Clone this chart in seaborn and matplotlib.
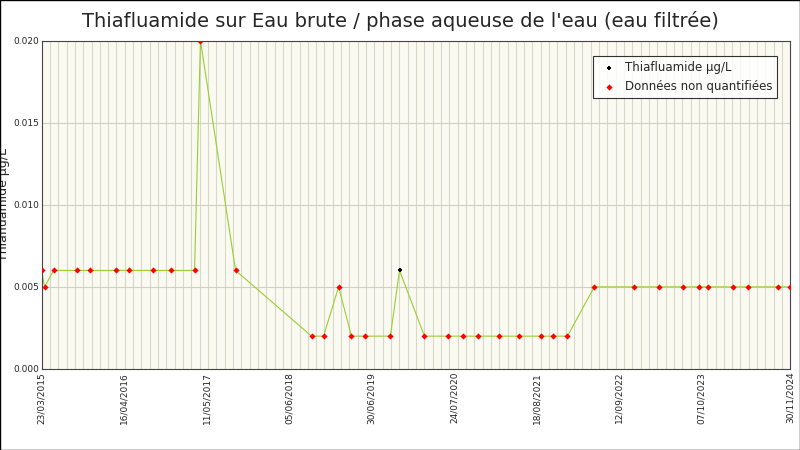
import numpy as np
import pandas as pd
import seaborn as sns
import matplotlib.pyplot as plt
import matplotlib.dates as mdates

dates = ["2015-03-23", "2015-04-06", "2015-05-19", "2015-09-04", "2015-11-05", "2016-03-11",
         "2016-05-07", "2016-08-29", "2016-11-22", "2017-03-15", "2017-04-12", "2017-09-25",
         "2018-09-19", "2018-11-15", "2019-01-25", "2019-03-27", "2019-05-28", "2019-09-27",
         "2019-11-09", "2020-03-06", "2020-06-23", "2020-09-02", "2020-11-16", "2021-02-23",
         "2021-05-29", "2021-09-10", "2021-11-06", "2022-01-11", "2022-05-18", "2022-11-23",
         "2023-03-22", "2023-07-13", "2023-09-27", "2023-11-08", "2024-03-05", "2024-05-15",
         "2024-10-04", "2024-11-30"]
values = [0.006, 0.005, 0.006, 0.006, 0.006, 0.006, 0.006, 0.006, 0.006, 0.006, 0.020, 0.006,
          0.002, 0.002, 0.005, 0.002, 0.002, 0.002, 0.006, 0.002, 0.002, 0.002, 0.002, 0.002,
          0.002, 0.002, 0.002, 0.002, 0.005, 0.005, 0.005, 0.005, 0.005, 0.005, 0.005, 0.005,
          0.005, 0.005]
quantified = [False] * len(values)
quantified[18] = True
tick_dates = ["2015-03-23", "2016-04-16", "2017-05-11", "2018-06-05", "2019-06-30",
              "2020-07-24", "2021-08-18", "2022-09-12", "2023-10-07", "2024-11-30"]

df = pd.DataFrame({"date": pd.to_datetime(dates), "val": values, "q": quantified})

sns.set_style("white")
fig = plt.figure(figsize=(8, 4.5), dpi=100)
ax = fig.add_axes([0.052, 0.18, 0.936, 0.73])
ax.set_facecolor("#fafaf2")

ticks = pd.to_datetime(tick_dates)
minor = pd.date_range(ticks[0], ticks[-1], periods=(len(ticks) - 1) * 10 + 1)
ax.set_xticks(minor, minor=True)
ax.grid(True, which="minor", axis="x", color="#d8d8c8", lw=0.8)
ax.grid(True, which="major", axis="y", color="#d0d0c0", lw=0.8)

sns.lineplot(data=df, x="date", y="val", ax=ax, color="#9acd32", lw=0.8)
sns.scatterplot(data=df[df.q], x="date", y="val", ax=ax, color="black", marker="P", s=12,
                linewidth=0, label="Thiafluamide µg/L", zorder=3)
sns.scatterplot(data=df[~df.q], x="date", y="val", ax=ax, color="red", marker="D", s=10,
                linewidth=0, label="Données non quantifiées", zorder=3)

ax.set_xlim(ticks[0], ticks[-1])
ax.set_ylim(0, 0.020)
ax.set_yticks(np.arange(0, 0.0201, 0.005))
ax.yaxis.set_major_formatter(plt.FormatStrFormatter("%.3f"))
ax.set_xticks(ticks)
ax.xaxis.set_major_formatter(mdates.DateFormatter("%d/%m/%Y"))
ax.tick_params(axis="both", pad=2, length=0)
plt.setp(ax.get_xticklabels(), rotation=90, fontsize=6.5)
plt.setp(ax.get_yticklabels(), fontsize=6.5)
ax.set_xlabel("")
ax.set_ylabel("Thiafluamide µg/L", fontsize=9)
ax.yaxis.set_label_coords(-0.042, 0.5)
for s in ax.spines.values():
    s.set_color("#444444")
fig.suptitle("Thiafluamide sur Eau brute / phase aqueuse de l'eau (eau filtrée)", fontsize=14, y=0.975)
leg = ax.legend(loc="upper right", bbox_to_anchor=(0.99, 0.97), fontsize=8.5, frameon=True,
                fancybox=False, edgecolor="black", handletextpad=0.3)
leg.get_frame().set_linewidth(0.8)
fig.patches.append(plt.Rectangle((0, 0), 1, 1, transform=fig.transFigure, fill=False,
                                 edgecolor="black", lw=1))
fig.savefig("out.png", dpi=100)
